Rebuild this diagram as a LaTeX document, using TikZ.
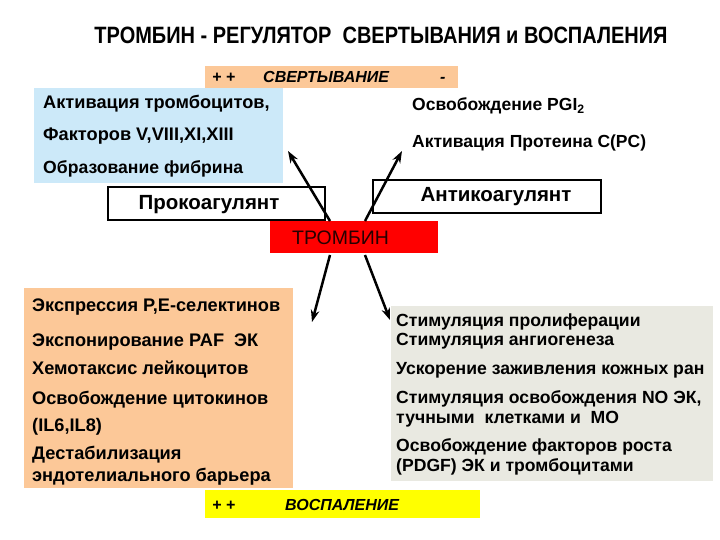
\documentclass[tikz,border=0pt]{standalone}
\usepackage{fontspec}
\setmainfont{Liberation Sans}
\usetikzlibrary{arrows.meta,calc}
\definecolor{peach}{HTML}{FCC898}
\definecolor{lblue}{HTML}{CCE9F9}
\definecolor{greybox}{HTML}{E9E9E1}
\definecolor{redbox}{HTML}{FF0000}
\definecolor{yelbox}{HTML}{FFFF00}
\begin{document}
\begin{tikzpicture}[x=1pt,y=-1pt,
  box/.style={anchor=north west, inner sep=0pt, outer sep=0pt},
  wbox/.style={box, draw=black, line width=1.2pt, fill=white},
  txt/.style={anchor=base west, inner sep=0pt, font=\fontsize{16}{18}\selectfont\bfseries},
  ttop/.style={txt, font=\fontsize{18.2}{20}\selectfont\bfseries},
  tll/.style={txt, font=\fontsize{18.2}{20}\selectfont\bfseries},
  tlr/.style={txt, font=\fontsize{17.6}{19}\selectfont\bfseries},
  tbar/.style={txt, font=\fontsize{16}{18}\selectfont\bfseries\itshape},
  tlabel/.style={anchor=center, inner sep=0pt, font=\fontsize{20.5}{22}\selectfont\bfseries},
  arr/.style={line width=2.5pt, -{Stealth[length=12pt,width=8.5pt]}}]
\useasboundingbox (0,0) rectangle (720,540);
% title
\node[anchor=center, inner sep=0pt] (title) at (381,35)
  {\resizebox{573pt}{16.5pt}{\fontsize{20}{22}\selectfont\bfseries ТРОМБИН - РЕГУЛЯТОР\ \ СВЕРТЫВАНИЯ и ВОСПАЛЕНИЯ}};
% coagulation bar
\node[box, fill=peach, minimum width=253pt, minimum height=22pt] (svert) at (205,66) {};
\node[tbar] (pp1) at (212,83) {+ +};
\node[tbar] (svt) at (263,83) {СВЕРТЫВАНИЕ};
\node[tbar] (mn1) at (440,83) {-};
% blue box
\node[box, fill=lblue, minimum width=249pt, minimum height=95pt] (blue) at (34,88) {};
\node[ttop] (b1) at (43,109) {Активация тромбоцитов,};
\node[ttop] (b2) at (43,141) {Факторов V,VIII,XI,XIII};
\node[ttop, font=\fontsize{17.6}{20}\selectfont\bfseries] (b3) at (43,174) {Образование фибрина};
% right top texts
\node[ttop, font=\fontsize{17.5}{20}\selectfont\bfseries] (r1) at (412,111) {Освобождение PGI\textsubscript{2}};
\node[ttop, font=\fontsize{17.5}{20}\selectfont\bfseries] (r2) at (412,148) {Активация Протеина C(PC)};
% pro / anti boxes
\node[wbox, minimum width=217pt, minimum height=33pt] (pro) at (108,187) {};
\node[tlabel] (prot) at (209,205) {Прокоагулянт};
\node[wbox, minimum width=228pt, minimum height=33pt] (anti) at (373,180) {};
\node[tlabel] (antit) at (496,197) {Антикоагулянт};
% thrombin
\node[box, fill=redbox, minimum width=168pt, minimum height=32pt] (trombin) at (270,221) {};
\node[anchor=west, inner sep=0pt, font=\fontsize{19.5}{21}\selectfont, text=black!85!red] (trt) at (292,238) {ТРОМБИН};
% lower left box
\node[box, fill=peach, minimum width=269pt, minimum height=200pt] (ll) at (24,288) {};
\node[tll] (l1) at (32,311) {Экспрессия Р,Е-селектинов};
\node[tll] (l2) at (32,346) {Экспонирование PAF\ \ ЭК};
\node[tll] (l3) at (32,374) {Хемотаксис лейкоцитов};
\node[tll] (l4) at (32,404) {Освобождение цитокинов};
\node[tll] (l5) at (32,431) {(IL6,IL8)};
\node[tll] (l6) at (32,459) {Дестабилизация};
\node[tll] (l7) at (32,481) {эндотелиального барьера};
% lower right box
\node[box, fill=greybox, minimum width=322pt, minimum height=175pt] (lr) at (391,306) {};
\node[tlr] (g1) at (396,326) {Стимуляция пролиферации};
\node[tlr] (g2) at (396,345) {Стимуляция ангиогенеза};
\node[tlr] (g3) at (396,374) {Ускорение заживления кожных ран};
\node[tlr] (g4) at (396,403) {Стимуляция освобождения NO ЭК,};
\node[tlr] (g5) at (396,423) {тучными\ \ клетками и\ \ МО};
\node[tlr] (g6) at (396,451) {Освобождение факторов роста};
\node[tlr] (g7) at (396,471) {(PDGF) ЭК и тромбоцитами};
% inflammation bar
\node[box, fill=yelbox, minimum width=275pt, minimum height=28pt] (vosp) at (205,490) {};
\node[tbar] (pp2) at (212,510) {+ +};
\node[tbar] (vpt) at (285,510) {ВОСПАЛЕНИЕ};
% arrows
\coordinate (ulend) at (288,151);
\coordinate (urend) at (402,151);
\coordinate (llend) at (312,322);
\coordinate (lrend) at (390,320);
\draw[arr] ($(trombin.north west)+(60,0)$) -- (ulend);
\draw[arr] ($(trombin.north west)+(95,0)$) -- (urend);
\draw[arr] ($(trombin.south west)+(60,2)$) -- (llend);
\draw[arr] ($(trombin.south west)+(95,2)$) -- (lrend);
\end{tikzpicture}
\end{document}
